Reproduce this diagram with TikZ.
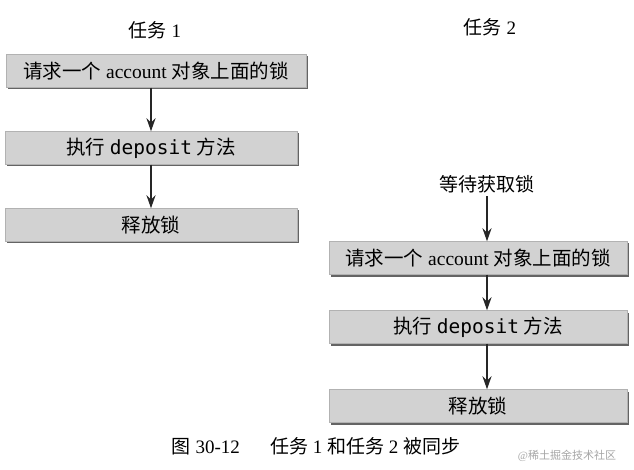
\documentclass[tikz,border=0pt]{standalone}
\usepackage{fontspec}
\setmainfont{Liberation Serif}
\setmonofont{DejaVu Sans Mono}
\newfontfamily\cjk{Noto Sans CJK SC}
\usetikzlibrary{arrows.meta, shadows}
\definecolor{boxgray}{RGB}{210, 210, 210}
\definecolor{shadegray}{RGB}{100, 100, 100}
\newcommand{\zh}[1]{{\cjk #1}}
\tikzset{
  stepbox/.style={rectangle, draw=gray!60, fill=boxgray, minimum width=#1,
                  minimum height=33pt, inner sep=0pt, font=\fontsize{19.5}{22}\selectfont,
                  drop shadow={shadow xshift=2pt, shadow yshift=-2pt, fill=shadegray, opacity=1}},
  stepbox/.default=292pt,
  tasktext/.style={font=\fontsize{19}{22}\selectfont},
  flowarrow/.style={-{Stealth[length=13pt, width=9pt]}, line width=2pt, black!85},
}

\begin{document}
\begin{tikzpicture}[x=1pt, y=-1pt]
  \fill[white] (0,0) rectangle (634,470);
  \useasboundingbox (0,0) rectangle (634,470);

  % task 1
  \node[tasktext] (task1) at (155,30) {\zh{任务} 1};
  \node[stepbox=300pt] (req1) at (156,71) {\zh{请求一个} account \zh{对象上面的锁}};
  \node[stepbox] (dep1) at (151,148) {\zh{执行} \texttt{deposit} \zh{方法}};
  \node[stepbox] (rel1) at (151,225) {\zh{释放锁}};

  % task 2
  \node[tasktext] (task2) at (490,27) {\zh{任务} 2};
  \node[tasktext] (wait2) at (487,184) {\zh{等待获取锁}};
  \node[stepbox=298pt] (req2) at (478,258) {\zh{请求一个} account \zh{对象上面的锁}};
  \node[stepbox=298pt] (dep2) at (478,327) {\zh{执行} \texttt{deposit} \zh{方法}};
  \node[stepbox=298pt] (rel2) at (478,406) {\zh{释放锁}};

  \draw[flowarrow] (req1.south -| dep1.north) -- (dep1.north);
  \draw[flowarrow] (dep1) -- (rel1);
  \draw[flowarrow] (wait2.south) -- (wait2.south |- req2.north);
  \draw[flowarrow] (wait2.south |- req2.south) -- (wait2.south |- dep2.north);
  \draw[flowarrow] (wait2.south |- dep2.south) -- (wait2.south |- rel2.north);

  % caption
  \node[font=\fontsize{19}{22}\selectfont] (cap) at (316,446)
       {\zh{图} 30-12\hspace{1.6em}\zh{任务} 1 \zh{和任务} 2 \zh{被同步}};
  \node[font=\fontsize{11}{13}\selectfont, text=gray!70] (mark) at (567,456) {@\zh{稀土掘金技术社区}};
\end{tikzpicture}
\end{document}
